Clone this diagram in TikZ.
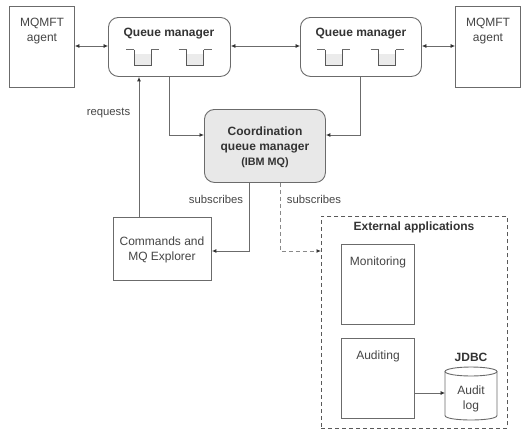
\documentclass[tikz,border=0pt]{standalone}
\usepackage{fontspec}
\setmainfont{Liberation Sans}
\usetikzlibrary{arrows.meta}
\definecolor{ln}{gray}{0.42}
\definecolor{tx}{gray}{0.27}
\tikzset{
  every node/.style={text=tx,font=\fontsize{12}{15}\selectfont,align=center,inner sep=0pt},
  boxn/.style={draw=ln,line width=0.9pt,anchor=north west,fill=white},
  qmgr/.style={boxn,rounded corners=10pt},
  lab/.style={anchor=center},
  slab/.style={anchor=center,font=\fontsize{11.3}{14}\selectfont},
  blab/.style={anchor=center,font=\fontsize{12}{15}\selectfont\bfseries,text=black!80},
  conn/.style={draw=ln,line width=0.9pt,-{Latex[length=4.5pt,width=4pt,color=black!80]}},
  one conn/.style={draw=ln,line width=0.7pt,-{Latex[length=4.5pt,width=4pt,color=black!80]}},
  thin conn/.style={draw=ln,line width=0.7pt,{Latex[length=4.5pt,width=4pt,color=black!80]}-{Latex[length=4.5pt,width=4pt,color=black!80]}},
  dash conn/.style={draw=ln!80,line width=1pt,dash pattern=on 4pt off 3pt,-{Latex[length=4.5pt,width=4pt,color=black!80]}},
  cyl/.style={draw=ln,line width=0.9pt,fill=white},
  qicon/.pic={
    \fill[black!8] (-8.5,4) rectangle (8.5,16);
    \draw[draw=ln,line width=0.7pt] (-16.5,0) -- (-8.5,0) (8.5,0) -- (16.5,0);
    \draw[draw=black!65,line width=0.9pt] (-8.5,0) -- (-8.5,16) -- (8.5,16) -- (8.5,0);
  }
}
\begin{document}
\begin{tikzpicture}[x=1pt,y=-1pt]
\useasboundingbox (0,0) rectangle (530,439);
\node[boxn,minimum width=65pt,minimum height=81pt] (agentL) at (9,6) {};
\node[boxn,minimum width=65pt,minimum height=81pt] (agentR) at (455,6) {};
\node[qmgr,minimum width=122pt,minimum height=59pt] (qm1) at (108,17) {};
\node[qmgr,minimum width=121pt,minimum height=59pt] (qm2) at (300,17) {};
\node[qmgr,fill=black!9,minimum width=121pt,minimum height=73pt] (coord) at (204,109) {};
\node[boxn,minimum width=98pt,minimum height=63pt] (cmd) at (113,217) {};
\node[boxn,draw=black!65,dash pattern=on 4pt off 3pt,fill=none,minimum width=186pt,minimum height=212pt] (ext) at (321,216) {};
\node[boxn,minimum width=73pt,minimum height=80pt] (mon) at (341,244) {};
\node[boxn,minimum width=73pt,minimum height=80pt] (aud) at (341,338) {};
% cylinder
\draw[cyl] (445,371.5) -- (445,415.5) .. controls (445,421.5) and (497,421.5) .. (497,415.5) -- (497,371.5);
\draw[cyl] (471,371.5) ellipse [x radius=26,y radius=4.5];
\node[anchor=north west,minimum width=52pt,minimum height=53pt] (db) at (445,367) {};
%
\node[lab] (t1) at (42,31) {MQMFT\\agent};
\node[lab] (t2) at (488,31) {MQMFT\\agent};
\node[blab] (t3) at (169,33.5) {Queue manager};
\node[blab] (t4) at (361,33.5) {Queue manager};
\node[blab] (t5) at (265,147) {Coordination\\queue manager\\{\fontsize{10.8}{15}\selectfont (IBM MQ)}};
\node[lab] (t6) at (162,249.5) {Commands and\\MQ Explorer};
\node[blab] (t7) at (414,227.5) {External applications};
\node[lab] (t8) at (378,262) {Monitoring};
\node[lab] (t9) at (378,356.5) {Auditing};
\node[blab] (t10) at (471,357) {JDBC};
\node[lab] (t11) at (471,398.5) {Audit\\log};
\node[slab] (t12) at (108.5,113.5) {requests};
\node[slab] (t13) at (216,199) {subscribes};
\node[slab] (t14) at (314,199) {subscribes};
%
\pic at (142.5,49.5) {qicon};
\pic at (195,49.5) {qicon};
\pic at (333.5,49.5) {qicon};
\pic at (387,49.5) {qicon};
%
\draw[thin conn] (agentL.east |- 0,46) -- (qm1.west |- 0,46);
\draw[thin conn] (qm1.east |- 0,46) -- (qm2.west |- 0,46);
\draw[thin conn] (qm2.east |- 0,46) -- (agentR.west |- 0,46);
\draw[conn] (cmd.north -| 139,0) -- (qm1.south -| 139,0);
\draw[conn] (qm1.south -| 169,0) -- (169,135) -- (coord.west |- 0,135);
\draw[conn] (qm2.south -| 360,0) -- (360,135) -- (coord.east |- 0,135);
\draw[conn] (coord.south -| 249,0) -- (249,251) -- (cmd.east |- 0,251);
\draw[dash conn] (coord.south -| 280,0) -- (280,251) -- (ext.west |- 0,251);
\draw[one conn] (aud.east |- 0,393) -- (db.west |- 0,393);
\end{tikzpicture}
\end{document}
